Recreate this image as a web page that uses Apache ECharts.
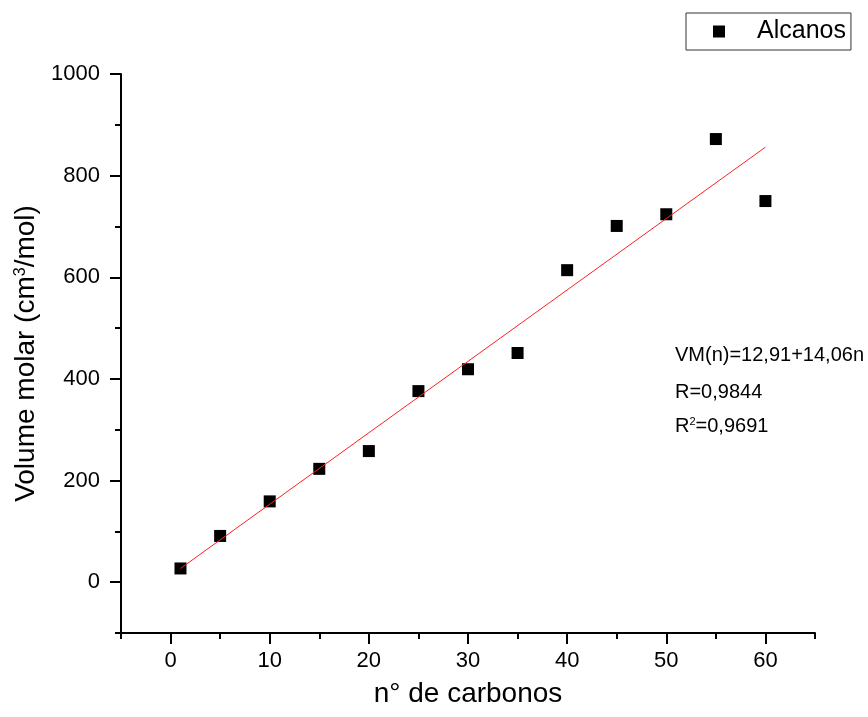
<!DOCTYPE html>
<html><head><meta charset="utf-8">
<script src="https://cdn.jsdelivr.net/npm/echarts@6/dist/echarts.min.js"></script>
<style>html,body{margin:0;padding:0;background:#fff}#c{width:868px;height:717px}</style>
</head><body><div id="c"></div>
<script>
// ---- data ----
const carbonNumbers = [1, 5, 10, 15, 20, 25, 30, 35, 40, 45, 50, 55, 60];
const molarVolumes  = [27, 91, 159, 223, 258, 376, 419, 451, 614, 701, 724, 872, 750];
const fitX = [1, 60];
const fitY = [27, 856];
const xTickValues = [0, 10, 20, 30, 40, 50, 60];
const yTickValues = [0, 200, 400, 600, 800, 1000];
const xRange = [-5, 65];
const yRange = [-100, 1000];
const xMinorStep = 5;
const yMinorStep = 100;
const seriesName = 'Alcanos';
const xTitle = 'n° de carbonos';
const yTitle = 'Volume molar (cm{sup|3}/mol)';
const fitLines = ['VM(n)=12,91+14,06n', 'R=0,9844', 'R{sup|2}=0,9691'];

const FF = '"Liberation Sans", Arial, sans-serif';
const chart = echarts.init(document.getElementById('c'), null, {renderer: 'canvas'});

const axisLineStyle = {show: true, onZero: false, lineStyle: {color: '#000', width: 2}};
const lineYs = [356, 393, 427];
const fmt = v => String(v);

chart.setOption({
  animation: false,
  backgroundColor: '#fff',
  grid: {left: 121, top: 74, right: 53, bottom: 84, containLabel: false, outerBoundsMode: 'none'},
  legend: {
    left: 686, top: 13,
    padding: [5, 5, 5, 27],
    borderColor: '#333', borderWidth: 1,
    itemWidth: 12, itemHeight: 12, icon: 'rect',
    itemStyle: {color: '#000', opacity: 1},
    textStyle: {fontSize: 25, color: '#000', fontFamily: FF, padding: [0, 0, 0, 27], lineHeight: 27},
    data: [seriesName]
  },
  xAxis: [{
    type: 'value', position: 'bottom', min: xRange[0], max: xRange[1],
    splitLine: {show: false},
    axisLine: axisLineStyle,
    axisTick: {show: true, inside: false, length: 11, lineStyle: {color: '#000', width: 2}, customValues: xTickValues},
    axisLabel: {show: true, customValues: xTickValues, formatter: fmt, fontSize: 22, color: '#000', fontFamily: FF, margin: 17},
    name: xTitle, nameLocation: 'middle', nameGap: 47,
    nameTextStyle: {fontSize: 28, color: '#000', fontFamily: FF}
  }, {
    type: 'value', position: 'bottom', min: xRange[0], max: xRange[1], interval: xMinorStep,
    splitLine: {show: false},
    axisLine: {show: false, onZero: false},
    axisTick: {show: true, length: 6, lineStyle: {color: '#000', width: 2}},
    axisLabel: {show: false}
  }],
  yAxis: [{
    type: 'value', position: 'left', min: yRange[0], max: yRange[1],
    splitLine: {show: false},
    axisLine: axisLineStyle,
    axisTick: {show: true, inside: false, length: 11, lineStyle: {color: '#000', width: 2}, customValues: yTickValues},
    axisLabel: {show: true, customValues: yTickValues, formatter: fmt, fontSize: 22, color: '#000', fontFamily: FF, margin: 21},
    name: yTitle, nameLocation: 'middle', nameGap: 78, nameRotate: 90,
    nameTextStyle: {fontSize: 28, color: '#000', fontFamily: FF,
      rich: {sup: {fontSize: 16, color: '#000', fontFamily: FF, verticalAlign: 'top', lineHeight: 16, padding: [0, 0, 4, 0]}}}
  }, {
    type: 'value', position: 'left', min: yRange[0], max: yRange[1], interval: yMinorStep,
    splitLine: {show: false},
    axisLine: {show: false, onZero: false},
    axisTick: {show: true, length: 6, lineStyle: {color: '#000', width: 2}},
    axisLabel: {show: false}
  }],
  graphic: fitLines.map((t, i) => ({
    type: 'text', left: 675, top: lineYs[i] - 11,
    style: {
      text: t, fontSize: 20, fontFamily: FF, fill: '#000',
      rich: {sup: {fontSize: 11, fontFamily: FF, fill: '#000', verticalAlign: 'top', lineHeight: 11, padding: [0, 0, 3, 0]}}
    }
  })),
  series: [{
    name: 'fit', type: 'line', xAxisIndex: 0, yAxisIndex: 0,
    data: fitX.map((x, i) => [x, fitY[i]]),
    symbol: 'none', silent: true,
    lineStyle: {color: '#ff2020', width: 1}, z: 3
  }, {
    name: seriesName, type: 'scatter', xAxisIndex: 0, yAxisIndex: 0,
    data: carbonNumbers.map((x, i) => [x, molarVolumes[i]]),
    symbol: 'rect', symbolSize: 12,
    itemStyle: {color: '#000', opacity: 1}, z: 2
  }]
});
</script></body></html>
